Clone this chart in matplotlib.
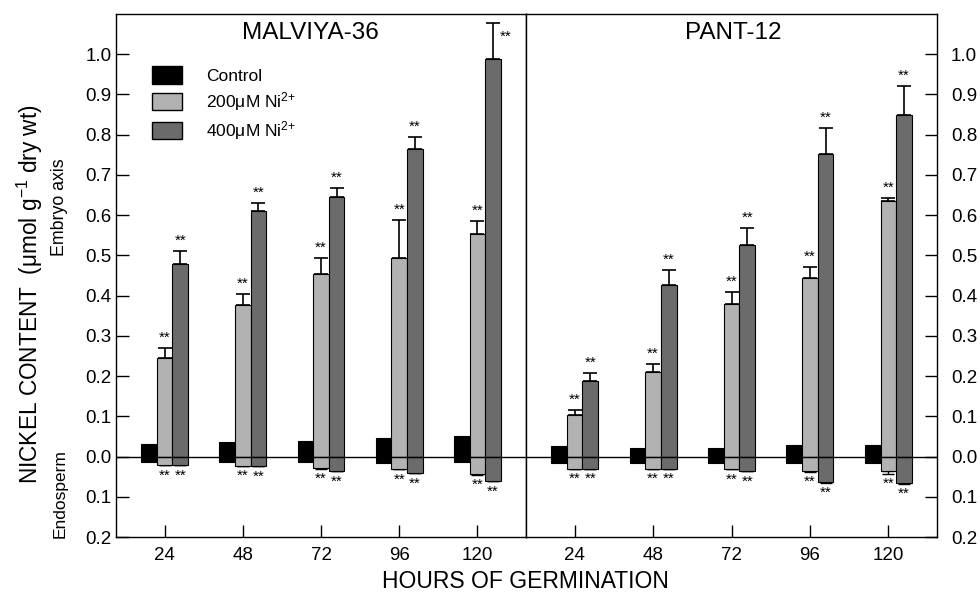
import matplotlib
matplotlib.use('Agg')
import matplotlib.pyplot as plt
from matplotlib.patches import Patch
from matplotlib.ticker import FuncFormatter
import numpy as np

plt.rcParams['font.family'] = ['Liberation Sans', 'DejaVu Sans']
plt.rcParams['mathtext.fontset'] = 'custom'
plt.rcParams['mathtext.rm'] = 'Liberation Sans'
plt.rcParams['mathtext.it'] = 'Liberation Sans:italic'

hours = ['24', '48', '72', '96', '120']
cultivars = ['MALVIYA-36', 'PANT-12']
labels = ['Control', '200\u03bcM Ni$^{2{+}}$', '400\u03bcM Ni$^{2{+}}$']
colors = ['#000000', '#b2b2b2', '#6b6b6b']

# embryo axis (up), endosperm (down, shown as magnitudes)
m36_ctrl_emb = [0.032, 0.035, 0.039, 0.047, 0.052]
m36_ctrl_endo = [0.013, 0.013, 0.013, 0.015, 0.013]
m36_200_emb = [0.244, 0.377, 0.454, 0.494, 0.553]
m36_200_emb_err = [0.026, 0.027, 0.039, 0.093, 0.033]
m36_400_emb = [0.479, 0.610, 0.644, 0.765, 0.989]
m36_400_emb_err = [0.031, 0.020, 0.024, 0.030, 0.089]
m36_200_endo = [0.022, 0.023, 0.029, 0.031, 0.044]
m36_200_endo_err = [0.0, 0.0, 0.001, 0.001, 0.001]
m36_400_endo = [0.022, 0.024, 0.036, 0.041, 0.060]
m36_400_endo_err = [0.0, 0.0, 0.001, 0.001, 0.001]

p12_ctrl_emb = [0.025, 0.022, 0.020, 0.029, 0.029]
p12_ctrl_endo = [0.017, 0.017, 0.017, 0.016, 0.016]
p12_200_emb = [0.104, 0.210, 0.380, 0.443, 0.634]
p12_200_emb_err = [0.011, 0.019, 0.028, 0.028, 0.009]
p12_400_emb = [0.188, 0.427, 0.526, 0.751, 0.848]
p12_400_emb_err = [0.019, 0.037, 0.043, 0.066, 0.072]
p12_200_endo = [0.030, 0.030, 0.032, 0.036, 0.036]
p12_200_endo_err = [0.0, 0.0, 0.0, 0.002, 0.007]
p12_400_endo = [0.030, 0.031, 0.037, 0.063, 0.066]
p12_400_endo_err = [0.0, 0.0, 0.0, 0.002, 0.002]

panels = [
    (m36_ctrl_emb, m36_ctrl_endo, m36_200_emb, m36_200_emb_err, m36_400_emb, m36_400_emb_err,
     m36_200_endo, m36_200_endo_err, m36_400_endo, m36_400_endo_err),
    (p12_ctrl_emb, p12_ctrl_endo, p12_200_emb, p12_200_emb_err, p12_400_emb, p12_400_emb_err,
     p12_200_endo, p12_200_endo_err, p12_400_endo, p12_400_endo_err),
]

fig = plt.figure(figsize=(9.8, 5.99), dpi=100)
W, H = 980.0, 599.0
left, right, top, bottom = 116, 937, 14, 537
mid = 526
ax1 = fig.add_axes([left / W, 1 - bottom / H, (mid - left) / W, (bottom - top) / H])
ax2 = fig.add_axes([mid / W, 1 - bottom / H, (right - mid) / W, (bottom - top) / H])

x = np.arange(len(hours))
bw = 0.2
star_fs = 11

for k, (ax, data) in enumerate(zip([ax1, ax2], panels)):
    (c_emb, c_endo, a_emb, a_err, b_emb, b_err, a_endo, a_endo_err, b_endo, b_endo_err) = data
    ax.bar(x - bw, c_emb, bw, color=colors[0], edgecolor='black', linewidth=0.8, zorder=3)
    ax.bar(x - bw, -np.array(c_endo), bw, color=colors[0], edgecolor='black', linewidth=0.8, zorder=3)
    for off, emb, err, endo, endo_err, col in [(0, a_emb, a_err, a_endo, a_endo_err, colors[1]),
                                               (bw, b_emb, b_err, b_endo, b_endo_err, colors[2])]:
        xs = x + off
        ax.bar(xs, emb, bw, color=col, edgecolor='black', linewidth=0.8, zorder=3)
        ax.bar(xs, -np.array(endo), bw, color=col, edgecolor='black', linewidth=0.8, zorder=3)
        ax.errorbar(xs, emb, yerr=[np.zeros(len(xs)), err], fmt='none', ecolor='black',
                    elinewidth=1.2, capsize=5, capthick=1.2, zorder=2)
        ax.errorbar(xs, -np.array(endo), yerr=[endo_err, np.zeros(len(xs))], fmt='none',
                    ecolor='black', elinewidth=1.0, capsize=4, capthick=1.0, zorder=2)
        for i in range(len(xs)):
            topv = emb[i] + err[i]
            if topv > 1.03:
                ax.text(xs[i] + 0.08, topv - 0.035, '**', ha='left', va='center', fontsize=star_fs)
            else:
                ax.text(xs[i], topv + 0.008, '**', ha='center', va='bottom', fontsize=star_fs)
            ax.text(xs[i], -endo[i] - endo_err[i] - 0.008, '**', ha='center', va='top',
                    fontsize=star_fs)

    ax.axhline(0, color='black', linewidth=1.0, zorder=4)
    ax.set_xlim(-0.62, len(hours) - 1 + 0.62)
    ax.set_ylim(-0.2, 1.1)
    ax.set_xticks(x)
    ax.set_xticklabels(hours, fontsize=13)
    ax.set_yticks(np.arange(-0.2, 1.01, 0.1))
    ax.yaxis.set_major_formatter(FuncFormatter(lambda v, p: '%.1f' % abs(v)))
    ax.tick_params(axis='both', direction='in', length=9, width=1.0, labelsize=13.5, pad=7)
    for s in ax.spines.values():
        s.set_linewidth(1.0)
    ax.text(0.473 if k == 0 else 0.504, 0.964, cultivars[k], transform=ax.transAxes,
            ha='center', va='center', fontsize=17.5)

ax1.tick_params(axis='y', left=True, right=False, pad=3)
ax2.yaxis.tick_right()
ax2.tick_params(axis='y', direction='in', length=9, labelsize=13.5, pad=10)

handles = [Patch(facecolor=c, edgecolor='black') for c in colors]
ax1.legend(handles, labels, loc='upper left', bbox_to_anchor=(0.05, 0.93), frameon=False,
           fontsize=12.5, handlelength=1.7, handleheight=1.2, handletextpad=1.4, labelspacing=0.35)

fig.text(30 / W, 1 - 294 / H, 'NICKEL CONTENT  (\u03bcmol g$^{-1}$ dry wt)', rotation=90,
         ha='center', va='center', fontsize=16.3)
fig.text(60 / W, 1 - 207 / H, 'Embryo axis', rotation=90, ha='center', va='center', fontsize=12.8)
fig.text(60 / W, 1 - 494 / H, 'Endosperm', rotation=90, ha='center', va='center', fontsize=12.5)
fig.text(525 / W, 1 - 582 / H, 'HOURS OF GERMINATION', ha='center', va='center', fontsize=16.5)

fig.savefig('out.png', dpi=100)
